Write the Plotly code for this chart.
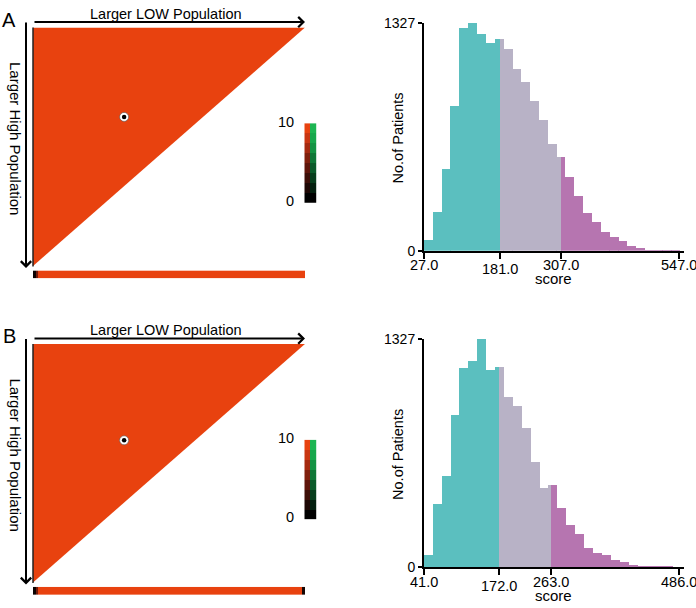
import plotly.graph_objects as go

W, H = 696, 608

# ---------------- data ----------------
N_CUT = 100                      # X-tile grid size (cut-points per axis)
dot_A = (33.5, 37.5)             # optimal cut-point, panel A
dot_B = (33.5, 40.4)             # optimal cut-point, panel B
bar_row_A = [0.5, 5] + [10] * (N_CUT - 2)
bar_row_B = [0.5, 5] + [10] * (N_CUT - 3) + [1]

scale_red = ["#000000", "#1e0805", "#3d0f08", "#5f160b", "#80200d", "#a52a10", "#c93612", "#e8420f"]
scale_green = ["#000000", "#04200f", "#073d1c", "#0b5a2a", "#0f7737", "#139343", "#17a74c", "#1db552"]
scale_labels = ["0", "10"]

hist_A_start, hist_A_width = 27.0, 18.0
counts_A = [64, 228, 479, 847, 1299, 1327, 1261, 1208, 1236, 1174, 1061, 983, 872, 761,
            623, 547, 432, 321, 219, 172, 111, 85, 57, 32, 19, 9, 9, 3, 1]
ticks_A = [27.0, 181.0, 307.0, 547.0]       # min, cut 1, cut 2, max

hist_B_start, hist_B_width = 41.0, 15.5
counts_B = [72, 366, 531, 885, 1156, 1198, 1327, 1145, 1166, 990, 935, 811, 612, 459,
            480, 345, 243, 190, 114, 83, 68, 44, 28, 15, 9, 9, 2, 1]
ticks_B = [41.0, 172.0, 263.0, 486.0]

y_max = 1327
group_colors = ["#5bbfbf", "#b8b2c6", "#b675b0"]
tri_color = "#e8420f"
FONT = "Liberation Sans, Arial, sans-serif"


def X(px):
    return px / W


def Y(py):
    return 1 - py / H


fig = go.Figure()
layout = dict(width=W, height=H, margin=dict(l=0, r=0, t=0, b=0),
              paper_bgcolor="white", plot_bgcolor="rgba(0,0,0,0)",
              showlegend=False, font=dict(family=FONT, color="black"))
annotations = []
shapes = []

red_cs = [[i / (len(scale_red) - 1), c] for i, c in enumerate(scale_red)]

levels = len(scale_red)
disc_colors = scale_red + scale_green
nlev = len(disc_colors)
disc_cs = []
for k, c in enumerate(disc_colors):
    disc_cs.append([k / nlev, c])
    disc_cs.append([(k + 1) / nlev, c])


def hist_segments(start, width, counts, c1, c2):
    xs, ws, ys, cols = [], [], [], []
    for k, cnt in enumerate(counts):
        lo = start + k * width
        hi = lo + width
        cuts = [lo] + [v for v in (c1, c2) if lo < v < hi] + [hi]
        for a, b in zip(cuts[:-1], cuts[1:]):
            mid = (a + b) / 2
            g = 0 if mid < c1 else (1 if mid < c2 else 2)
            xs.append(mid)
            ws.append((b - a) * 1.03)
            ys.append(cnt)
            cols.append(group_colors[g])
    return xs, ws, ys, cols


def panel(off, idx0, letter, dot, bar_row, start, width, counts, ticks):
    i_tri, i_bar, i_cb, i_h = idx0, idx0 + 1, idx0 + 2, idx0 + 3

    def ax(i):
        return ("x" if i == 1 else f"x{i}"), ("y" if i == 1 else f"y{i}")

    def lay(i):
        return ("xaxis" if i == 1 else f"xaxis{i}"), ("yaxis" if i == 1 else f"yaxis{i}")

    # ---- X-tile triangle ----
    xa, ya = ax(i_tri)
    fig.add_trace(go.Scatter(x=[0, N_CUT, 0, 0], y=[0, 0, N_CUT, 0], mode="lines",
                             fill="toself", fillcolor=tri_color, line=dict(width=0),
                             hoverinfo="skip", xaxis=xa, yaxis=ya))
    fig.add_trace(go.Scatter(x=[dot[0]], y=[dot[1]], mode="markers",
                             marker=dict(size=9, color="white", line=dict(color="#555", width=0.6)),
                             xaxis=xa, yaxis=ya, hoverinfo="skip"))
    fig.add_trace(go.Scatter(x=[dot[0]], y=[dot[1]], mode="markers",
                             marker=dict(size=4.5, color="black"),
                             xaxis=xa, yaxis=ya, hoverinfo="skip"))
    lx, ly = lay(i_tri)
    layout[lx] = dict(domain=[X(33), X(305)], range=[0, N_CUT], visible=False, anchor=ya)
    layout[ly] = dict(domain=[Y(off + 265), Y(off + 20)], range=[N_CUT, 0], visible=False, anchor=xa)

    # ---- single-cut bar ----
    xa, ya = ax(i_bar)
    fig.add_trace(go.Heatmap(z=[bar_row], x=[i + 0.5 for i in range(N_CUT)], y=[0.5],
                             colorscale=red_cs, zmin=0, zmax=10, showscale=False,
                             hoverinfo="skip", xaxis=xa, yaxis=ya))
    lx, ly = lay(i_bar)
    layout[lx] = dict(domain=[X(33), X(305)], range=[0, N_CUT], visible=False, anchor=ya)
    layout[ly] = dict(domain=[Y(off + 277.5), Y(off + 269.5)], range=[0, 1], visible=False, anchor=xa)

    # ---- colour legend ----
    xa, ya = ax(i_cb)
    z = [[r, levels + r] for r in range(levels)]
    fig.add_trace(go.Heatmap(z=z, x=[0, 1], y=list(range(levels)), colorscale=disc_cs,
                             zmin=0, zmax=nlev, showscale=False, hoverinfo="skip",
                             xaxis=xa, yaxis=ya))
    lx, ly = lay(i_cb)
    layout[lx] = dict(domain=[X(304.3), X(316.7)], range=[-0.5, 1.5], visible=False, anchor=ya)
    layout[ly] = dict(domain=[Y(off + 200), Y(off + 118.3)], range=[-0.5, levels - 0.5],
                      visible=False, anchor=xa)
    annotations.append(dict(text=scale_labels[1], xref="paper", yref="paper", x=X(296), y=Y(off + 117),
                            xanchor="right", yanchor="middle", showarrow=False, font=dict(size=14.5)))
    annotations.append(dict(text=scale_labels[0], xref="paper", yref="paper", x=X(296), y=Y(off + 198),
                            xanchor="right", yanchor="middle", showarrow=False, font=dict(size=14.5)))

    # ---- histogram ----
    xa, ya = ax(i_h)
    xs, ws, ys, cols = hist_segments(start, width, counts, ticks[1], ticks[2])
    fig.add_trace(go.Bar(x=xs, y=ys, width=ws, marker=dict(color=cols, line=dict(width=0)),
                         hoverinfo="skip", xaxis=xa, yaxis=ya))
    lx, ly = lay(i_h)
    px_per_unit = (679.3 - 424) / (ticks[3] - ticks[0])
    xmax = ticks[0] + (683.5 - 424) / px_per_unit
    layout[lx] = dict(domain=[X(424), X(683.5)], range=[ticks[0], xmax], anchor=ya,
                      showline=True, linecolor="black", linewidth=2, showgrid=False, zeroline=False,
                      ticks="outside", tickvals=ticks, ticklen=6, tickwidth=2, tickcolor="black",
                      showticklabels=False)
    layout[ly] = dict(domain=[Y(off + 249.3), Y(off + 15)], range=[0, y_max], anchor=xa,
                      showline=True, linecolor="black", linewidth=2, showgrid=False, zeroline=False,
                      ticks="outside", tickvals=[0, y_max], ticktext=["0", str(y_max)], ticklen=4,
                      tickwidth=1.5, tickcolor="black", tickfont=dict(size=14))
    dys = [264, 268.5, 264, 264]
    for t, dy in zip(ticks, dys):
        annotations.append(dict(text=f"{t:.1f}", xref=xa, yref="paper", x=t, y=Y(off + dy),
                                xanchor="center", yanchor="middle", showarrow=False,
                                font=dict(size=14.5)))
    annotations.append(dict(text="score", xref="paper", yref="paper", x=X(553.5), y=Y(off + 278),
                            xanchor="center", yanchor="middle", showarrow=False, font=dict(size=15)))
    annotations.append(dict(text="No.of Patients", xref="paper", yref="paper", x=X(398), y=Y(off + 134),
                            xanchor="center", yanchor="middle", textangle=-90, showarrow=False,
                            font=dict(size=14.5)))

    # ---- labels / arrows of X-tile ----
    annotations.append(dict(text=letter, xref="paper", yref="paper", x=X(9), y=Y(off + 12),
                            xanchor="center", yanchor="middle", showarrow=False, font=dict(size=20)))
    annotations.append(dict(text="Larger LOW Population", xref="paper", yref="paper", x=X(166),
                            y=Y(off + 6), xanchor="center", yanchor="middle", showarrow=False,
                            font=dict(size=14.5)))
    annotations.append(dict(text="Larger High Population", xref="paper", yref="paper", x=X(15.5),
                            y=Y(off + 134), xanchor="center", yanchor="middle", textangle=90,
                            showarrow=False, font=dict(size=15)))
    annotations.append(dict(text="", xref="paper", yref="paper", x=X(305), y=Y(off + 14.5),
                            ax=-272, ay=0, showarrow=True, arrowhead=4, arrowsize=1,
                            arrowwidth=2, arrowcolor="black", standoff=0, startstandoff=0))
    annotations.append(dict(text="", xref="paper", yref="paper", x=X(26), y=Y(off + 267),
                            ax=0, ay=-247, showarrow=True, arrowhead=4, arrowsize=1,
                            arrowwidth=2, arrowcolor="black", standoff=0, startstandoff=0))
    shapes.append(dict(type="line", xref="paper", yref="paper", x0=X(33), x1=X(33),
                       y0=Y(off + 20), y1=Y(off + 265.5), line=dict(color="#222", width=1.5)))


panel(0, 1, "A", dot_A, bar_row_A, hist_A_start, hist_A_width, counts_A, ticks_A)
panel(325, 5, "B", dot_B, bar_row_B, hist_B_start, hist_B_width, counts_B, ticks_B)

layout["annotations"] = annotations
layout["shapes"] = shapes
layout["bargap"] = 0
fig.update_layout(**layout)

pin = ("document.documentElement.style.margin='0';document.body.style.margin='0';"
       "document.body.style.overflow='hidden';"
       "var d=document.getElementById('{plot_id}');"
       "d.style.position='fixed';d.style.left='0px';d.style.top='0px';")
fig.write_html("out.html", post_script=pin, config={"displayModeBar": False})
